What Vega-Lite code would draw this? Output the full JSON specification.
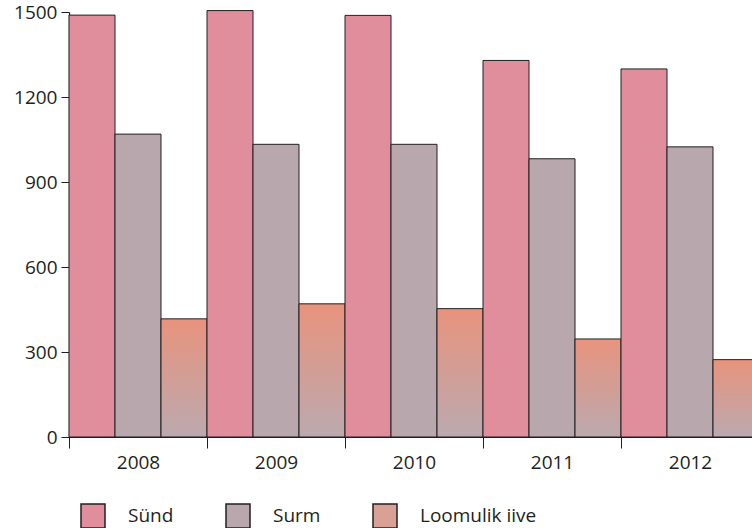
{
  "$schema": "https://vega.github.io/schema/vega-lite/v6.json",
  "autosize": "none",
  "width": 683,
  "height": 425,
  "padding": {"left": 69, "top": 12, "right": 0, "bottom": 91},
  "background": "white",
  "config": {
    "view": {"stroke": null},
    "font": "Open Sans",
    "axis": {"labelFont": "Open Sans", "labelColor": "#231f20", "domainColor": "#231f20", "tickColor": "#231f20", "grid": false}
  },
  "data": {
    "values": [
      {"year": "2008", "series": "Sünd", "value": 1489},
      {"year": "2008", "series": "Surm", "value": 1069},
      {"year": "2008", "series": "Loomulik iive", "value": 417},
      {"year": "2009", "series": "Sünd", "value": 1505},
      {"year": "2009", "series": "Surm", "value": 1033},
      {"year": "2009", "series": "Loomulik iive", "value": 470},
      {"year": "2010", "series": "Sünd", "value": 1488},
      {"year": "2010", "series": "Surm", "value": 1033},
      {"year": "2010", "series": "Loomulik iive", "value": 453},
      {"year": "2011", "series": "Sünd", "value": 1329},
      {"year": "2011", "series": "Surm", "value": 982},
      {"year": "2011", "series": "Loomulik iive", "value": 346},
      {"year": "2012", "series": "Sünd", "value": 1299},
      {"year": "2012", "series": "Surm", "value": 1024},
      {"year": "2012", "series": "Loomulik iive", "value": 273}
    ]
  },
  "mark": {"type": "bar", "stroke": "#231f20", "strokeWidth": 1, "opacity": 1},
  "encoding": {
    "x": {
      "field": "year", "type": "nominal",
      "scale": {"range": [0, 690], "paddingInner": 0, "paddingOuter": 0},
      "axis": {"title": null, "labelAngle": 0, "tickBand": "extent", "tickSize": 11, "labelFontSize": 19, "labelPadding": 5, "domainWidth": 1.2}
    },
    "xOffset": {
      "field": "series", "type": "nominal",
      "scale": {"domain": ["Sünd", "Surm", "Loomulik iive"], "paddingInner": 0, "paddingOuter": 0}
    },
    "y": {
      "field": "value", "type": "quantitative",
      "scale": {"domain": [0, 1500], "nice": false},
      "axis": {"title": null, "format": "d", "values": [0, 300, 600, 900, 1200, 1500], "tickSize": 8, "labelFontSize": 19, "labelPadding": 4, "domainWidth": 1.2}
    },
    "color": {
      "condition": {
        "test": "datum.series === 'Loomulik iive'",
        "value": {"gradient": "linear", "x1": 0, "y1": 0, "x2": 0, "y2": 1, "stops": [{"offset": 0, "color": "#E8937D"}, {"offset": 1, "color": "#BBA9AF"}]}
      },
      "field": "series", "type": "nominal",
      "scale": {
        "domain": ["Sünd", "Surm", "Loomulik iive"],
        "range": ["#E08E9C", "#B8A8AD", "#D9A096"]
      },
      "legend": {
        "title": null,
        "orient": "none",
        "legendX": 11,
        "legendY": 491,
        "direction": "horizontal",
        "symbolType": "square",
        "symbolSize": 576,
        "symbolOpacity": 1,
        "labelFontSize": 19,
        "labelColor": "#231f20",
        "labelOffset": 22,
        "columnPadding": 49
      }
    }
  }
}
